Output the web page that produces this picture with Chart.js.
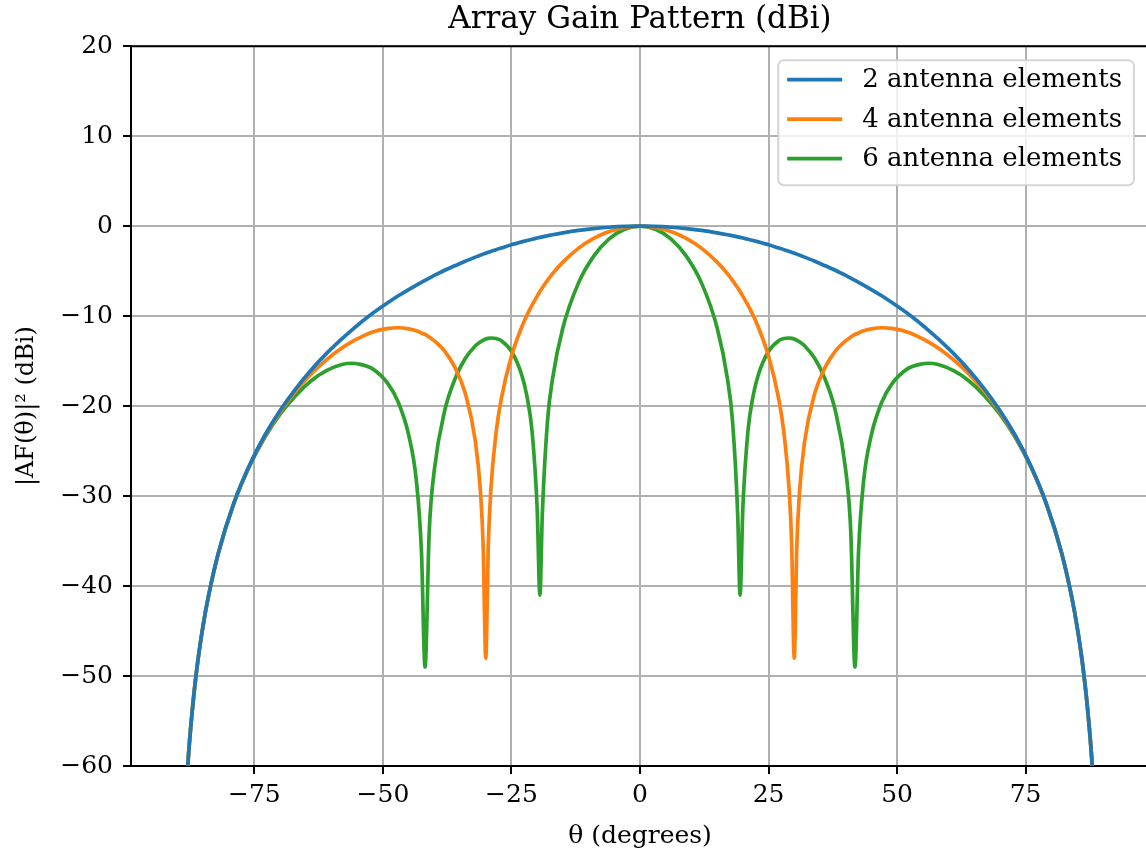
<!DOCTYPE html>
<html>
<head>
<meta charset="utf-8">
<script src="https://cdn.jsdelivr.net/npm/chart.js@4.4.1/dist/chart.umd.min.js"></script>
<style>
  html, body { margin: 0; padding: 0; background: #fff; overflow: hidden; }
</style>
</head>
<body>
<canvas id="gainChart" width="1149" height="855"></canvas>
<script>
// angle samples (degrees)
const theta = [
  -89, -88, -87, -86, -85, -84, -82, -79, -76, -73, -70, -67, -64, -61, -58, -56, -55, -52, -49, -47,
  -45, -43.5, -42.5, -41.81, -41, -40, -38, -36, -34, -32, -31, -30.5, -30, -29.5, -29, -28, -27, -25,
  -23, -22, -21, -20, -19.47, -19, -18, -17, -15, -12, -9, -6, -3,
  0,
  3, 6, 9, 12, 15, 17, 18, 19, 19.47, 20, 21, 22, 23, 25, 27, 28, 29, 29.5, 30, 30.5, 31, 32, 34, 36,
  38, 40, 41, 41.81, 42.5, 43.5, 45, 47, 49, 52, 55, 56, 58, 61, 64, 67, 70, 73, 76, 79, 82, 84, 85,
  86, 87, 88, 89
];

const gain2 = [
  -72.42, -60.38, -53.34, -48.33, -44.46, -41.30, -36.31, -30.79, -26.63, -23.27, -20.48, -18.10, -16.01, -14.17, -12.53, -11.52, -11.04, -9.69, -8.49, -7.74,
  -7.05, -6.56, -6.24, -6.02, -5.77, -5.48, -4.90, -4.40, -3.90, -3.44, -3.22, -3.11, -3.01, -2.91, -2.81, -2.61, -2.43, -2.07,
  -1.75, -1.60, -1.46, -1.32, -1.25, -1.19, -1.07, -0.95, -0.74, -0.47, -0.27, -0.12, -0.03,
  0,
  -0.03, -0.12, -0.27, -0.47, -0.74, -0.95, -1.07, -1.19, -1.25, -1.32, -1.46, -1.60, -1.75, -2.07, -2.43, -2.61, -2.81, -2.91, -3.01, -3.11, -3.22, -3.44, -3.90, -4.40,
  -4.90, -5.48, -5.77, -6.02, -6.24, -6.56, -7.05, -7.74, -8.49, -9.69, -11.04, -11.52, -12.53, -14.17, -16.01, -18.10, -20.48, -23.27, -26.63, -30.79, -36.31, -41.30, -44.46,
  -48.33, -53.34, -60.38, -72.42
];

const gain4 = [
  -72.42, -60.38, -53.34, -48.33, -44.46, -41.30, -36.32, -30.81, -26.66, -23.35, -20.64, -18.37, -16.46, -14.86, -13.55, -12.84, -12.53, -11.77, -11.37, -11.29,
  -11.41, -11.62, -11.87, -12.04, -12.33, -12.75, -13.89, -15.70, -18.55, -24.00, -29.74, -35.62, -48.0, -35.37, -29.24, -22.99, -19.26, -14.44,
  -11.21, -9.91, -8.78, -7.77, -7.27, -6.85, -6.02, -5.28, -4.00, -2.47, -1.36, -0.60, -0.15,
  0,
  -0.15, -0.60, -1.36, -2.47, -4.00, -5.28, -6.02, -6.85, -7.27, -7.77, -8.78, -9.91, -11.21, -14.44, -19.26, -22.99, -29.24, -35.37, -48.0, -35.62, -29.74, -24.00, -18.55, -15.70,
  -13.89, -12.75, -12.33, -12.04, -11.87, -11.62, -11.41, -11.29, -11.37, -11.77, -12.53, -12.84, -13.55, -14.86, -16.46, -18.37, -20.64, -23.35, -26.66, -30.81, -36.32, -41.30, -44.46,
  -48.33, -53.34, -60.38, -72.42
];

const gain6 = [
  -72.42, -60.38, -53.34, -48.33, -44.46, -41.31, -36.32, -30.83, -26.73, -23.49, -20.90, -18.84, -17.21, -16.07, -15.38, -15.24, -15.29, -15.86, -17.53, -19.59,
  -23.20, -28.28, -36.27, -49.0, -33.99, -27.07, -20.54, -17.00, -14.72, -13.29, -12.84, -12.68, -12.55, -12.47, -12.43, -12.48, -12.72, -13.91,
  -16.54, -18.88, -22.75, -31.41, -41.0, -32.04, -21.70, -16.93, -11.30, -6.36, -3.33, -1.42, -0.35,
  0,
  -0.35, -1.42, -3.33, -6.36, -11.30, -16.93, -21.70, -32.04, -41.0, -31.41, -22.75, -18.88, -16.54, -13.91, -12.72, -12.48, -12.43, -12.47, -12.55, -12.68, -12.84, -13.29, -14.72, -17.00,
  -20.54, -27.07, -33.99, -49.0, -36.27, -28.28, -23.20, -19.59, -17.53, -15.86, -15.29, -15.24, -15.38, -16.07, -17.21, -18.84, -20.90, -23.49, -26.73, -30.83, -36.32, -41.31, -44.46,
  -48.33, -53.34, -60.38, -72.42
];

const seriesLabels = ["2 antenna elements", "4 antenna elements", "6 antenna elements"];
const xTicks = [-75, -50, -25, 0, 25, 50, 75];
const yTicks = [20, 10, 0, -10, -20, -30, -40, -50, -60];

const colors = ["#1f77b4", "#ff7f0e", "#2ca02c"];
const serif = "'DejaVu Serif', serif";

Chart.defaults.font.family = serif;
Chart.defaults.color = "#000";

function minusLabel(v) {
  return v < 0 ? "\u2212" + Math.abs(v) : String(v);
}

function toPoints(ys) {
  return theta.map(function (t, i) { return { x: t, y: ys[i] }; });
}

// top spine + matplotlib-like legend box
const frameAndLegend = {
  id: "frameAndLegend",
  afterDatasetsDraw(chart) {
    const ctx = chart.ctx;
    const area = chart.chartArea;
    ctx.save();
    ctx.strokeStyle = "#000";
    ctx.lineWidth = 2;
    ctx.beginPath();
    ctx.moveTo(area.left - 1, area.top);
    ctx.lineTo(area.right, area.top);
    ctx.stroke();

    ctx.font = "26px " + serif;
    const sets = chart.data.datasets;
    const textW = Math.max.apply(null, sets.map(function (d) { return ctx.measureText(d.label).width; }));
    const right = area.right - 15;
    const top = area.top + 14;
    const w = 84 + textW + 12;
    const h = 125;
    const left = right - w;
    ctx.beginPath();
    ctx.roundRect(left, top, w, h, 6);
    ctx.fillStyle = "rgba(255,255,255,0.8)";
    ctx.fill();
    ctx.strokeStyle = "rgba(204,204,204,0.8)";
    ctx.lineWidth = 2;
    ctx.stroke();
    sets.forEach(function (d, i) {
      const y = top + 19.5 + i * 39.5;
      ctx.strokeStyle = d.borderColor;
      ctx.lineWidth = 3.7;
      ctx.beginPath();
      ctx.moveTo(left + 9, y);
      ctx.lineTo(left + 64, y);
      ctx.stroke();
      ctx.fillStyle = "#000";
      ctx.textBaseline = "middle";
      ctx.textAlign = "left";
      ctx.fillText(d.label, left + 84, y + 1);
    });
    ctx.restore();
  }
};

new Chart(document.getElementById("gainChart"), {
  type: "line",
  data: {
    datasets: [gain2, gain4, gain6].map(function (ys, i) {
      return {
        label: seriesLabels[i],
        data: toPoints(ys),
        borderColor: colors[i],
        backgroundColor: colors[i],
        borderWidth: 3.7,
        pointRadius: 0,
        cubicInterpolationMode: "monotone",
        fill: false
      };
    })
  },
  options: {
    responsive: false,
    animation: false,
    events: [],
    layout: { padding: 0 },
    plugins: {
      legend: { display: false },
      tooltip: { enabled: false },
      title: {
        display: true,
        text: "Array Gain Pattern (dBi)",
        fullSize: false,
        font: { size: 31, weight: "normal", family: serif },
        color: "#000",
        padding: { top: 1, bottom: 8 }
      }
    },
    scales: {
      x: {
        type: "linear",
        min: -99,
        max: 99,
        afterBuildTicks: function (scale) {
          scale.ticks = xTicks.map(function (v) { return { value: v }; });
        },
        afterFit: function (scale) { scale.height = 89; },
        ticks: {
          font: { size: 25 },
          padding: 6,
          maxRotation: 0,
          callback: minusLabel
        },
        grid: { color: "#b0b0b0", lineWidth: 2, tickColor: "#000", tickLength: 8, tickWidth: 2 },
        border: { color: "#000", width: 2 },
        title: {
          display: true,
          text: "\u03b8 (degrees)",
          font: { size: 25 },
          padding: { top: 0, bottom: 4 }
        }
      },
      y: {
        type: "linear",
        min: -60,
        max: 20,
        afterBuildTicks: function (scale) {
          scale.ticks = yTicks.map(function (v) { return { value: v }; });
        },
        afterFit: function (scale) { scale.width = 131; },
        ticks: {
          font: { size: 25 },
          padding: 10,
          callback: minusLabel
        },
        grid: { color: "#b0b0b0", lineWidth: 2, tickColor: "#000", tickLength: 8, tickWidth: 2 },
        border: { color: "#000", width: 2 },
        title: {
          display: true,
          text: "|AF(\u03b8)|\u00b2 (dBi)",
          font: { size: 24 },
          padding: { top: 12, bottom: 0 }
        }
      }
    }
  },
  plugins: [frameAndLegend]
});
</script>
</body>
</html>
